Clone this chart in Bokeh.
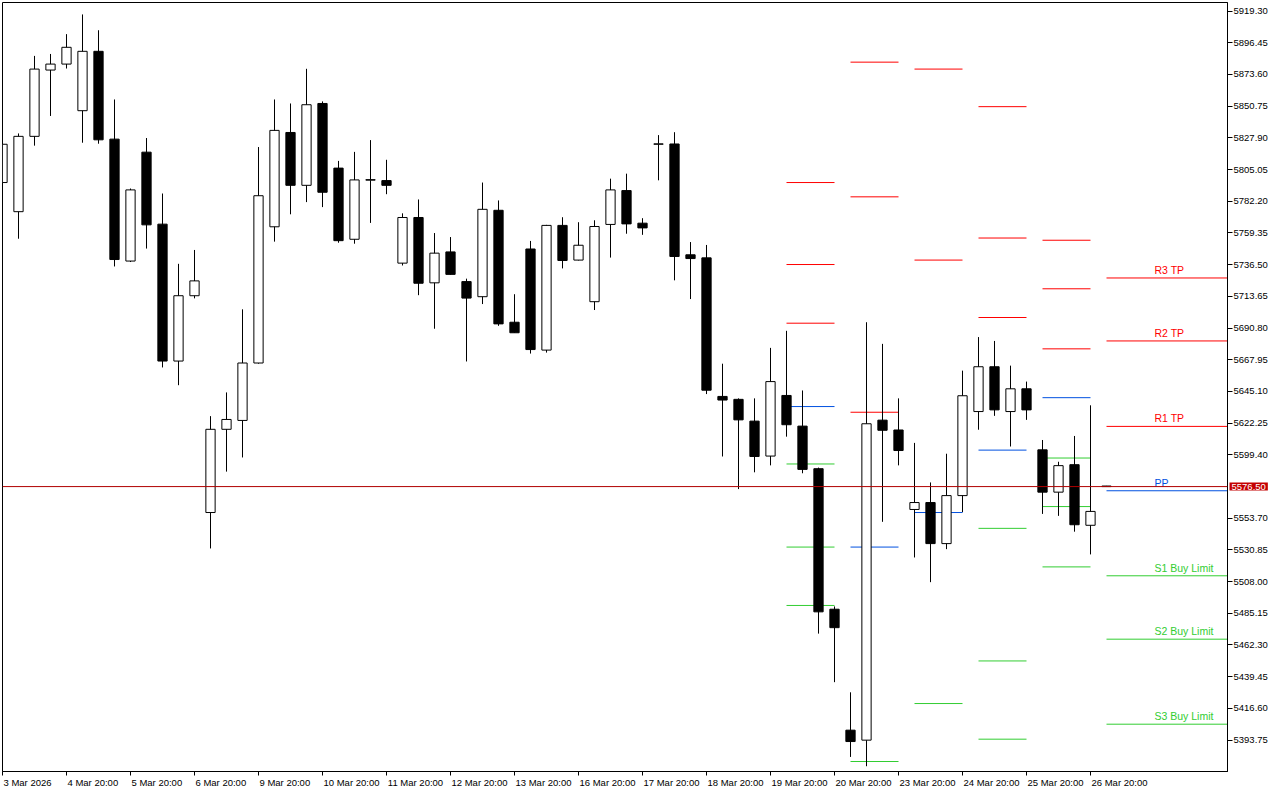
from bokeh.plotting import figure
from bokeh.models import Range1d, FixedTicker, LinearAxis, Span, Label, ColumnDataSource
from bokeh.embed import file_html
from bokeh.resources import INLINE
from bokeh.core.properties import value

# ---------------- data ----------------
opens = [5795.7, 5774.7, 5829.0, 5876.8, 5881.1, 5847.5, 5890.3, 5827.0, 5739.1, 5817.6,
         5765.7, 5667.0, 5714.1, 5557.8, 5617.8, 5624.2, 5665.6, 5763.8, 5831.8, 5793.7,
         5852.7, 5806.1, 5754.8, 5797.4, 5797.1, 5737.6, 5770.5, 5723.4, 5745.7, 5724.3,
         5713.4, 5775.7, 5695.0, 5747.8, 5674.9, 5764.8, 5739.8, 5709.8, 5765.5, 5789.9,
         5766.4, 5823.3, 5823.5, 5743.6, 5741.4, 5641.5, 5639.4, 5623.7, 5598.5, 5642.2,
         5620.1, 5589.4, 5488.1, 5400.9, 5393.7, 5624.4, 5617.3, 5560.0, 5565.0, 5535.4,
         5570.0, 5630.6, 5662.9, 5630.6, 5647.0, 5603.0, 5572.5, 5592.3, 5548.6, 5576.9]
highs = [5823.5, 5831.1, 5887.0, 5888.4, 5902.7, 5916.9, 5905.5, 5855.6, 5791.4, 5827.8,
         5787.8, 5737.1, 5747.1, 5627.3, 5644.4, 5704.3, 5821.3, 5855.6, 5852.7, 5877.7,
         5854.2, 5811.3, 5817.8, 5826.3, 5812.1, 5773.5, 5783.5, 5759.3, 5756.4, 5726.4,
         5795.7, 5782.8, 5715.2, 5753.6, 5765.2, 5770.7, 5767.1, 5768.5, 5798.5, 5802.1,
         5770.0, 5829.9, 5832.0, 5752.8, 5750.7, 5665.1, 5640.1, 5640.1, 5676.5, 5688.8,
         5645.8, 5590.2, 5490.1, 5428.2, 5695.0, 5679.4, 5640.1, 5608.0, 5579.5, 5600.2,
         5660.1, 5684.3, 5681.5, 5663.7, 5652.2, 5610.1, 5594.4, 5613.0, 5635.1, 5577.0]
lows = [5794.9, 5755.2, 5822.3, 5843.7, 5877.9, 5824.4, 5823.7, 5735.2, 5738.4, 5748.1,
        5662.4, 5649.6, 5712.2, 5531.9, 5587.3, 5597.5, 5665.1, 5753.1, 5772.8, 5781.6,
        5778.0, 5752.3, 5751.6, 5766.6, 5787.3, 5735.9, 5714.5, 5690.3, 5729.3, 5666.7,
        5708.1, 5692.4, 5687.4, 5672.4, 5673.1, 5733.8, 5739.5, 5703.8, 5741.6, 5758.8,
        5758.0, 5797.3, 5725.2, 5711.7, 5643.2, 5598.2, 5574.7, 5586.8, 5591.8, 5612.5,
        5586.1, 5470.5, 5435.5, 5381.6, 5374.9, 5551.1, 5591.8, 5525.4, 5507.6, 5531.4,
        5558.1, 5617.5, 5627.5, 5605.4, 5624.6, 5556.8, 5555.4, 5544.0, 5527.6, 5576.4]
closes = [5823.3, 5829.0, 5877.5, 5881.1, 5893.2, 5890.3, 5826.5, 5740.2, 5790.4, 5765.2,
          5667.0, 5714.1, 5724.8, 5617.8, 5624.9, 5665.6, 5786.2, 5833.3, 5793.7, 5851.8,
          5788.7, 5753.8, 5797.6, 5797.8, 5793.7, 5770.5, 5723.1, 5744.8, 5729.5, 5712.4,
          5776.4, 5693.8, 5687.4, 5675.3, 5764.8, 5739.5, 5750.5, 5764.0, 5790.4, 5765.9,
          5763.0, 5823.6, 5742.4, 5740.9, 5646.0, 5638.9, 5624.6, 5598.2, 5652.2, 5621.1,
          5588.9, 5486.2, 5474.8, 5392.7, 5621.8, 5617.1, 5602.5, 5565.0, 5535.4, 5570.0,
          5642.0, 5662.9, 5631.8, 5647.0, 5631.8, 5572.5, 5591.6, 5549.0, 5558.6, 5576.5]

date_tick_bars = [0, 4, 8, 12, 16, 20, 24, 28, 32, 36, 40, 44, 48, 52, 56, 60, 64, 68]
date_tick_labels = ["3 Mar 2026", "4 Mar 20:00", "5 Mar 20:00", "6 Mar 20:00", "9 Mar 20:00",
                    "10 Mar 20:00", "11 Mar 20:00", "12 Mar 20:00", "13 Mar 20:00",
                    "16 Mar 20:00", "17 Mar 20:00", "18 Mar 20:00", "19 Mar 20:00",
                    "20 Mar 20:00", "23 Mar 20:00", "24 Mar 20:00", "25 Mar 20:00",
                    "26 Mar 20:00"]

price_tick_labels = ["5919.30", "5896.45", "5873.60", "5850.75", "5827.90", "5805.05",
                     "5782.20", "5759.35", "5736.50", "5713.65", "5690.80", "5667.95",
                     "5645.10", "5622.25", "5599.40", "5553.70", "5530.85", "5508.00",
                     "5485.15", "5462.30", "5439.45", "5416.60", "5393.75"]

current_price = 5576.50

# daily pivot levels (start bar of each day's segment)
pivot_start = [49, 53, 57, 61, 65, 69]
pivot_R3 = [5795.7, 5882.5, 6059.4, 5850.4, 5754.1, 5726.9]
pivot_R2 = [5736.6, 5785.4, 5877.5, 5755.7, 5719.1, 5681.5]
pivot_R1 = [5694.3, 5630.1, 5739.8, 5698.4, 5675.8, 5619.9]
pivot_PP = [5634.2, 5532.9, 5557.8, 5602.8, 5640.6, 5573.5]
pivot_S1 = [5592.8, 5378.3, 5420.1, 5546.4, 5597.1, 5512.2]
pivot_S2 = [5532.9, 5281.0, 5238.2, 5450.8, 5562.1, 5466.5]
pivot_S3 = [5490.8, 5126.4, 5100.5, 5394.4, 5518.6, 5405.2]
level_names = ["R3 TP", "R2 TP", "R1 TP", "PP", "S1 Buy Limit", "S2 Buy Limit", "S3 Buy Limit"]

# ---------------- styles / layout ----------------
RED = "#FF0000"
BLUE = "#0050E0"
GREEN = "#32CD32"
level_colors = [RED, RED, RED, BLUE, GREEN, GREEN, GREEN]
FONT = "Liberation Sans"
AXIS_FONT_PX = 9.5

X_END = 76.5625
Y_START, Y_END = 5371.1, 5925.5
FIG_W, FIG_H = 1276, 798
FRAME_W = 1225
PX_PER_BAR = FRAME_W / X_END

# approximate advance widths (em) of Liberation Sans, used to left-align date labels at their ticks
_ADV = {d: 0.556 for d in "0123456789"}
_ADV.update({" ": 0.278, ":": 0.278, "M": 0.833, "a": 0.556, "r": 0.333})


def text_width_px(s, size):
    return sum(_ADV.get(ch, 0.556) for ch in s) * size


p = figure(width=FIG_W, height=FIG_H,
           x_range=Range1d(0, X_END), y_range=Range1d(Y_START, Y_END),
           output_backend="svg", toolbar_location=None,
           x_axis_location=None, y_axis_location=None,
           min_border_left=2, min_border_top=2, min_border_right=FIG_W - 2 - FRAME_W,
           min_border_bottom=0,
           background_fill_color="white", border_fill_color="white",
           outline_line_color="black", outline_line_width=1)
p.grid.visible = False

# right price axis
yaxis = LinearAxis(ticker=FixedTicker(ticks=[float(s) for s in price_tick_labels]),
                   major_label_overrides={float(s): s for s in price_tick_labels},
                   major_tick_out=5, major_tick_in=0, minor_tick_line_color=None,
                   axis_line_color="black", major_tick_line_color="black",
                   major_label_text_font=FONT, major_label_text_font_size=f"{AXIS_FONT_PX}px",
                   major_label_text_color="black", major_label_standoff=1)
p.add_layout(yaxis, "right")

# bottom time axis: minor ticks mark the dates, major (invisible) ticks carry labels
# shifted so that each label starts just right of its tick, as in MetaTrader
label_pos = [t + (1 + text_width_px(s, AXIS_FONT_PX) / 2) / PX_PER_BAR
             for t, s in zip(date_tick_bars, date_tick_labels)]
xaxis = LinearAxis(ticker=FixedTicker(ticks=label_pos, minor_ticks=date_tick_bars),
                   major_label_overrides={lp: s for lp, s in zip(label_pos, date_tick_labels)},
                   major_tick_out=4, major_tick_in=0, major_tick_line_color=None,
                   minor_tick_out=4, minor_tick_in=0, minor_tick_line_color="black",
                   axis_line_color="black",
                   major_label_text_font=FONT, major_label_text_font_size=f"{AXIS_FONT_PX}px",
                   major_label_text_color="black", major_label_standoff=1)
p.add_layout(xaxis, "below")

# current price line
p.add_layout(Span(location=current_price, dimension="width", line_color="#B00000", line_width=1))

# pivot segments
seg_x0, seg_x1, seg_y, seg_c = [], [], [], []
levels = [pivot_R3, pivot_R2, pivot_R1, pivot_PP, pivot_S1, pivot_S2, pivot_S3]
n_days = len(pivot_start)
for d in range(n_days):
    x0 = pivot_start[d]
    x1 = pivot_start[d] + 3 if d < n_days - 1 else X_END + 1
    for lv, col in zip(levels, level_colors):
        seg_x0.append(x0)
        seg_x1.append(x1)
        seg_y.append(lv[d])
        seg_c.append(col)
p.segment(x0=seg_x0, y0=seg_y, x1=seg_x1, y1=seg_y, line_color=seg_c, line_width=1)

# candles
idx = list(range(len(opens)))
bull = [c >= o for o, c in zip(opens, closes)]
src = ColumnDataSource(dict(
    x=idx, o=opens, h=highs, l=lows, c=closes,
    top=[max(o, c) for o, c in zip(opens, closes)],
    bottom=[min(o, c) for o, c in zip(opens, closes)],
    fill=["white" if b else "black" for b in bull],
))
p.segment(x0="x", y0="l", x1="x", y1="h", source=src, line_color="black", line_width=1)
p.vbar(x="x", top="top", bottom="bottom", width=0.58, source=src,
       fill_color="fill", line_color="black", line_width=1)

# labels of the current day's levels
last = n_days - 1
p.text(x=[pivot_start[last] + 3] * 7, y=[lv[last] for lv in levels], text=level_names,
       text_color=level_colors, text_font=value(FONT), text_font_size="10.5px",
       text_baseline="bottom", text_align="left", y_offset=-2)

# price tag on the price scale (side-panel annotation so it is not clipped to the frame)
tag = Label(x=X_END, y=current_price, text=f"{current_price:.2f}", text_align="left",
            text_baseline="middle", x_offset=2, text_font=FONT,
            text_font_size=f"{AXIS_FONT_PX}px", text_color="white",
            background_fill_color="#C40000")
try:
    tag.padding = (2, 1)
except Exception:
    pass
p.add_layout(tag, "below")

open("out.html", "w").write(file_html(p, INLINE))
